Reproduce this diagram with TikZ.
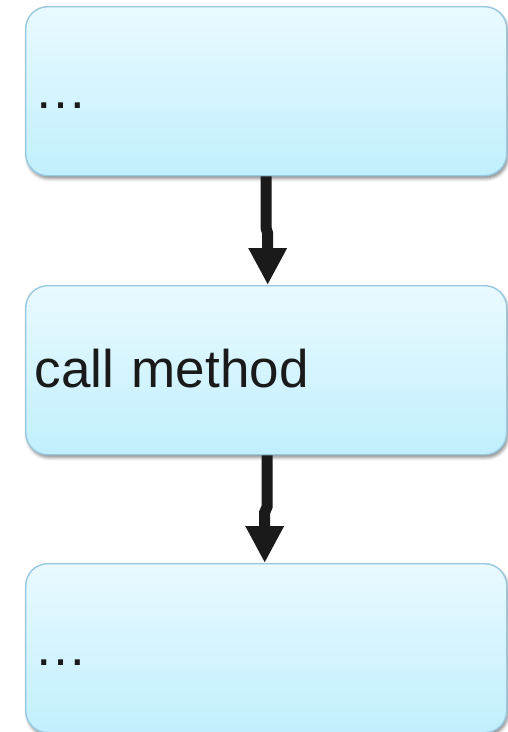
\documentclass[tikz,border=0pt]{standalone}
\usepackage{fontspec}
\setmainfont{Liberation Sans}
\usetikzlibrary{arrows.meta,shadows.blur}
\definecolor{boxtop}{RGB}{233,250,255}
\definecolor{boxbot}{RGB}{192,239,253}
\definecolor{boxedge}{RGB}{152,200,224}
\definecolor{ink}{RGB}{26,26,26}
\begin{document}
\begin{tikzpicture}[x=1pt,y=-1pt,
  stepbox/.style={draw=boxedge, line width=1.4pt, rounded corners=22pt,
    top color=boxtop, bottom color=boxbot,
    minimum width=481pt, minimum height=169pt, text width=463pt,
    inner xsep=9pt, inner ysep=0pt, align=left,
    text height=34pt, text depth=0pt,
    font=\fontsize{53}{60}\selectfont, text=ink, anchor=north west,
    blur shadow={shadow xshift=1.5pt, shadow yshift=-3pt,
      shadow blur radius=3pt, shadow opacity=45}},
  flow/.style={draw=ink, line width=11pt, -{Triangle[width=36pt,length=37pt]}}]
\useasboundingbox (0,0) rectangle (508,732);

% the three steps
\node[stepbox] (b1) at (25,6)   {…};
\node[stepbox] (b2) at (25,285) {call method};
\node[stepbox] (b3) at (25,563) {…};

% connectors between the steps
\draw[flow] (b1.south) -- ++(0,52) -- ++(1.5,5) -- ([xshift=1.5pt]b2.north);
\draw[flow] ([xshift=1pt]b2.south) -- ++(0,51) -- ++(-2.5,6) -- ([xshift=-1.5pt]b3.north);
\end{tikzpicture}
\end{document}
